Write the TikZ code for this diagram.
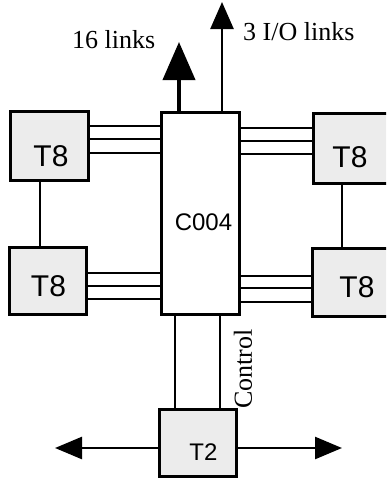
\documentclass[tikz,border=0pt]{standalone}
\usepackage{fontspec}
\setmainfont{Liberation Serif}
\newfontfamily\hvfont{Liberation Sans}
\usetikzlibrary{arrows.meta}
\begin{document}
\begin{tikzpicture}[x=1pt,y=-1pt,
  box/.style={draw, line width=3pt, fill=gray!15, inner sep=0pt, outer sep=0pt},
  chip/.style={draw, line width=3pt, fill=white, inner sep=0pt, outer sep=0pt},
  link/.style={line width=2.4pt},
  boxlab/.style={font=\hvfont\fontsize{30}{30}\selectfont, inner sep=0pt},
  chiplab/.style={font=\hvfont\fontsize{24}{24}\selectfont, inner sep=0pt},
  serlab/.style={font=\fontsize{26}{26}\selectfont, inner sep=0pt}]
\useasboundingbox (0,0) rectangle (386,482);
\clip (0,0) rectangle (386,482);
% boxes
\node[box, minimum width=78pt, minimum height=69pt] (tl) at (49,145.5) {};
\node[box, minimum width=82pt, minimum height=70pt] (tr) at (354,148) {};
\node[box, minimum width=77pt, minimum height=67pt] (bl) at (47.5,280.5) {};
\node[box, minimum width=82pt, minimum height=68pt] (br) at (353,282) {};
\node[chip, minimum width=78pt, minimum height=202pt] (c) at (200,213) {};
\node[box, minimum width=77pt, minimum height=67pt] (t2) at (197.5,442.5) {};
% labels
\node[boxlab] (ltl) at (51,156) {T8};
\node[boxlab] (ltr) at (350,157) {T8};
\node[boxlab] (lbl) at (48.5,286) {T8};
\node[boxlab] (lbr) at (357,287) {T8};
\node[chiplab] (lc) at (203.5,222) {C004};
\node[chiplab] (lt2) at (203.5,452) {T2};
% triple links
\foreach \a/\b in {15/14, 28/27, 42/41}
  \draw[link] ([yshift=-\a pt]tl.north east) -- ([yshift=-\b pt]c.north west);
\foreach \a/\b in {16/15, 29/28, 42/41}
  \draw[link] ([yshift=-\a pt]c.north east) -- ([yshift=-\b pt]tr.north west);
\foreach \a/\b in {26/41, 39/28, 52/15}
  \draw[link] ([yshift=-\a pt]bl.north east) -- ([yshift=\b pt]c.south west);
\foreach \a/\b in {38/28, 26/40, 12/54}
  \draw[link] ([yshift=\a pt]c.south east) -- ([yshift=-\b pt]br.north west);
% vertical links
\draw[link] ([xshift=30pt]tl.south west) -- ([xshift=31pt]bl.north west);
\draw[link] ([xshift=29pt]tr.south west) -- ([xshift=30pt]br.north west);
\draw[link] ([xshift=14pt]c.south west) -- ([xshift=16pt]t2.north west);
\draw[link] ([xshift=59pt]c.south west) -- ([xshift=61pt]t2.north west);
% arrows
\coordinate (a16) at (179,42);
\coordinate (aio) at (222,2);
\coordinate (al) at (55,448);
\coordinate (ar) at (342,448);
\draw[line width=4pt, -{Triangle[width=32pt,length=38pt]}] ([xshift=18pt]c.north west) -- (a16);
\draw[line width=2.5pt, -{Triangle[width=23pt,length=27pt]}] ([xshift=61pt]c.north west) -- (aio);
\draw[line width=2.5pt, -{Triangle[width=22pt,length=27pt]}] ([yshift=-5.5pt]t2.west) -- (al);
\draw[line width=2.5pt, -{Triangle[width=22pt,length=27pt]}] ([yshift=-5.5pt]t2.east) -- (ar);
% text labels
\node[serlab, anchor=base west] (l16) at (72,48) {16 links};
\node[serlab, anchor=base west] (lio) at (243,40) {3 I/O links};
\node[serlab, rotate=90] (lctl) at (243,369) {Control};
\end{tikzpicture}
\end{document}
